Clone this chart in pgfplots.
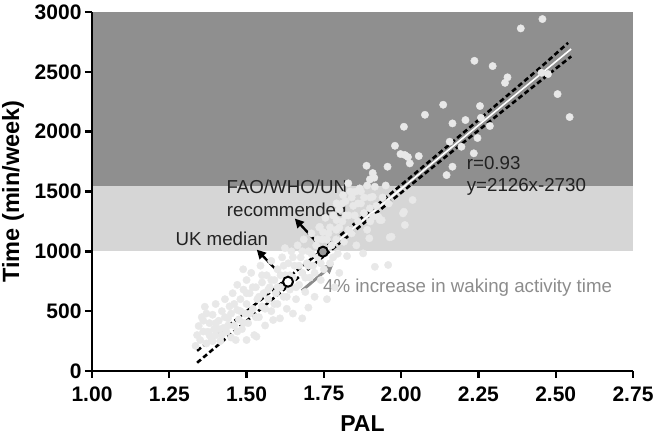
\documentclass[border=0pt]{standalone}
\usepackage{fontspec}
\setmainfont{Liberation Sans}
\usepackage{pgfplots}
\pgfplotsset{compat=1.18}
\usetikzlibrary{calc,arrows.meta}
\definecolor{darkbg}{HTML}{8F8F8F}
\definecolor{lightbg}{HTML}{D6D6D6}
\definecolor{dotc}{HTML}{E8E8E8}
\definecolor{arrgray}{HTML}{8C8C8C}
\definecolor{fillc}{HTML}{9A9A9A}
\definecolor{txt}{HTML}{222222}
\begin{document}
\begin{tikzpicture}
\begin{axis}[name=ax,
  width=541pt, height=359pt, scale only axis,
  xmin=1, xmax=2.75, ymin=0, ymax=3000, enlargelimits=false,
  axis lines=left, axis line style={-, line width=2.6pt, black},
  axis on top,
  xtick={1,1.25,1.5,1.75,2,2.25,2.5,2.75},
  ytick={0,500,1000,1500,2000,2500,3000},
  tick align=outside, major tick length=7pt,
  tick style={line width=2.4pt, black},
  /pgf/number format/assume math mode=true,
  xticklabel style={/pgf/number format/.cd, fixed, fixed zerofill, precision=2, /tikz/yshift=-5pt},
  yticklabel style={/pgf/number format/1000 sep={}},
  tick label style={font=\fontsize{21}{24}\selectfont\bfseries},
  xlabel={PAL}, ylabel={Time (min/week)},
  every axis x label/.style={at={(axis description cs:0.5,-0.146)}, anchor=center, font=\fontsize{23}{27}\selectfont\bfseries},
  every axis y label/.style={at={(axis description cs:-0.146,0.5)}, anchor=center, rotate=90, font=\fontsize{23.5}{28}\selectfont\bfseries},
]
% background bands
\addplot[fill=darkbg, draw=none] coordinates {(1,1545) (2.75,1545) (2.75,3000) (1,3000)} -- cycle;
\addplot[fill=lightbg, draw=none] coordinates {(1,1000) (2.75,1000) (2.75,1545) (1,1545)} -- cycle;
% scatter
\addplot[only marks, mark=*, mark size=3.7pt, color=dotc, mark options={draw=none, fill=dotc}] coordinates {
(2.457,2941) (2.387,2863) (2.237,2592) (2.296,2548) (2.344,2454) (2.336,2408) (2.454,2492) (2.475,2481)
(2.506,2314) (2.545,2122) (2.136,2225) (2.077,2141) (2.255,2214) (2.208,2097) (2.166,2069) (2.009,2041)
(2.287,2047) (2.258,2116) (2.247,1947) (2.157,1916) (2.195,1874) (2.235,1819) (2.057,1796) (2.012,1805)
(2.022,1788) (1.980,1882) (1.998,1813) (2.028,1735) (1.888,1715) (1.908,1654) (1.956,1707) (1.913,1615)
(2.147,1637) (2.166,1707) (2.037,1429) (2.009,1331) (1.851,1498) (1.866,1526) (1.899,1601) (2.012,1220)
(1.969,1122) (1.963,1117) (1.915,1540) (1.908,1456) (1.926,1289) (1.937,1261) (1.899,1359) (1.897,1109)
(1.915,871) (1.958,886) (1.877,983) (2.006,1317) (1.812,1470) (1.791,1401) (1.829,1568) (1.909,1289)
(1.931,1261) (1.624,1027) (1.737,1205) (1.791,1261) (1.747,1161)
(1.335,210) (1.34,300) (1.345,376) (1.35,259) (1.355,450) (1.36,330) (1.365,537) (1.37,230) (1.375,328)
(1.38,400) (1.385,280) (1.39,470) (1.395,350) (1.40,300) (1.40,560)
(1.41,420) (1.415,250) (1.42,500) (1.425,360) (1.43,600) (1.435,328) (1.44,440) (1.445,540) (1.45,280)
(1.455,650) (1.46,380) (1.465,259) (1.47,510) (1.47,720) (1.475,430) (1.48,600) (1.485,350) (1.489,850)
(1.49,680) (1.495,480) (1.50,259) (1.50,560) (1.50,760)
(1.505,400) (1.51,650) (1.515,820) (1.52,520) (1.525,300) (1.53,700) (1.532,287) (1.535,600) (1.54,450)
(1.545,880) (1.55,740) (1.55,540) (1.555,650) (1.56,380) (1.565,800) (1.57,600) (1.575,700) (1.58,500)
(1.58,920) (1.586,426) (1.59,760) (1.595,650) (1.60,850) (1.60,560)
(1.608,440) (1.61,700) (1.615,950) (1.62,620) (1.625,800) (1.63,520) (1.635,900) (1.64,680) (1.645,1000)
(1.65,780) (1.65,480) (1.655,880) (1.66,600) (1.665,1050) (1.67,720) (1.675,950) (1.68,820) (1.68,440)
(1.685,1100) (1.69,660) (1.695,900) (1.70,1000) (1.70,530) (1.705,780)
(1.71,1150) (1.715,880) (1.72,620) (1.725,1050) (1.73,950) (1.735,1200) (1.74,760) (1.745,1100)
(1.75,850) (1.755,1280) (1.76,600) (1.765,1150) (1.77,900) (1.775,1050) (1.78,1300) (1.785,700)
(1.79,1180) (1.795,980) (1.80,1350) (1.80,820)
(1.81,1250) (1.815,1080) (1.82,1420) (1.825,960) (1.83,1300) (1.835,1500) (1.84,1150) (1.845,1380)
(1.855,1050) (1.86,1250) (1.87,1400) (1.88,1320) (1.89,1180) (1.90,1450)
(1.36,420) (1.37,480) (1.38,300) (1.39,250) (1.40,400) (1.41,350) (1.42,300) (1.43,450) (1.44,380)
(1.45,480) (1.46,560) (1.47,330) (1.48,500) (1.49,400) (1.50,650) (1.51,480) (1.52,700) (1.53,450)
(1.54,620) (1.55,800) (1.56,520) (1.57,680) (1.58,760) (1.59,560) (1.60,700) (1.61,800) (1.62,880)
(1.63,620) (1.64,800) (1.65,950) (1.66,700) (1.67,880) (1.68,1000) (1.69,780) (1.70,880) (1.71,980)
(1.72,820) (1.73,1100) (1.74,900) (1.76,1100) (1.77,1200) (1.78,950) (1.79,1100) (1.80,1200)
(1.81,1400) (1.82,1300) (1.83,1180) (1.84,1450) (1.85,1300) (1.86,1400) (1.87,1500) (1.88,1450)
(1.89,1550) (1.90,1250) (1.92,1380) (1.94,1450) (1.95,1550) (1.96,1400)
};
% regression line
\addplot[color=white, line width=1.6pt] coordinates {(1.34,119) (2.55,2691)};
% confidence band
\addplot[black, line width=2.6pt, dash pattern=on 5pt off 3pt] coordinates {
(1.34,169) (1.45,396) (1.55,603) (1.65,812) (1.75,1022) (1.85,1233) (1.95,1447) (2.05,1662)
(2.15,1879) (2.25,2097) (2.35,2316) (2.45,2535) (2.54,2742)};
\addplot[black, line width=2.6pt, dash pattern=on 5pt off 3pt] coordinates {
(1.34,69) (1.45,309) (1.55,527) (1.65,744) (1.75,960) (1.85,1173) (1.95,1385) (2.05,1594)
(2.15,1803) (2.25,2010) (2.35,2217) (2.45,2423) (2.55,2629)};
% arrows
\addplot[black, line width=2.4pt, -{Triangle[length=9pt,width=9pt]}] coordinates {(1.608,813) (1.533,1014)};
\addplot[black, line width=2.4pt, -{Triangle[length=9pt,width=9pt]}] coordinates {(1.731,1065) (1.656,1274)};
\addplot[arrgray, line width=3pt, -{Triangle[length=10pt,width=10pt]}] coordinates {(1.679,671) (1.782,897)};
% highlighted points
\addplot[only marks, mark=*, mark size=5pt, mark options={draw=black, fill=white, line width=2pt}] coordinates {(1.634,746)};
\addplot[only marks, mark=*, mark size=5pt, mark options={draw=black, fill=fillc, line width=2pt}] coordinates {(1.747,997)};
% texts
\node[txt, font=\fontsize{18.7}{22.5}\selectfont] at (axis cs:1.42,1107) {UK median};
\node[txt, font=\fontsize{18.7}{22.5}\selectfont, align=center] at (axis cs:1.63,1441) {FAO/WHO/UN\\recommended};
\node[txt, font=\fontsize{18.7}{22.5}\selectfont, anchor=west, inner sep=0pt] at (axis cs:2.212,1738) {r=0.93};
\node[txt, font=\fontsize{18.7}{22.5}\selectfont, anchor=west, inner sep=0pt] at (axis cs:2.212,1537) {y=2126x-2730};
\node[arrgray, font=\fontsize{18.7}{22.5}\selectfont, anchor=west, inner sep=0pt] at (axis cs:1.747,693) {4\% increase in waking activity time};
\end{axis}
\pgfresetboundingbox
\path ($(ax.south west)+(-92pt,-66pt)$) rectangle ($(ax.north east)+(24pt,12pt)$);
\end{tikzpicture}
\end{document}
